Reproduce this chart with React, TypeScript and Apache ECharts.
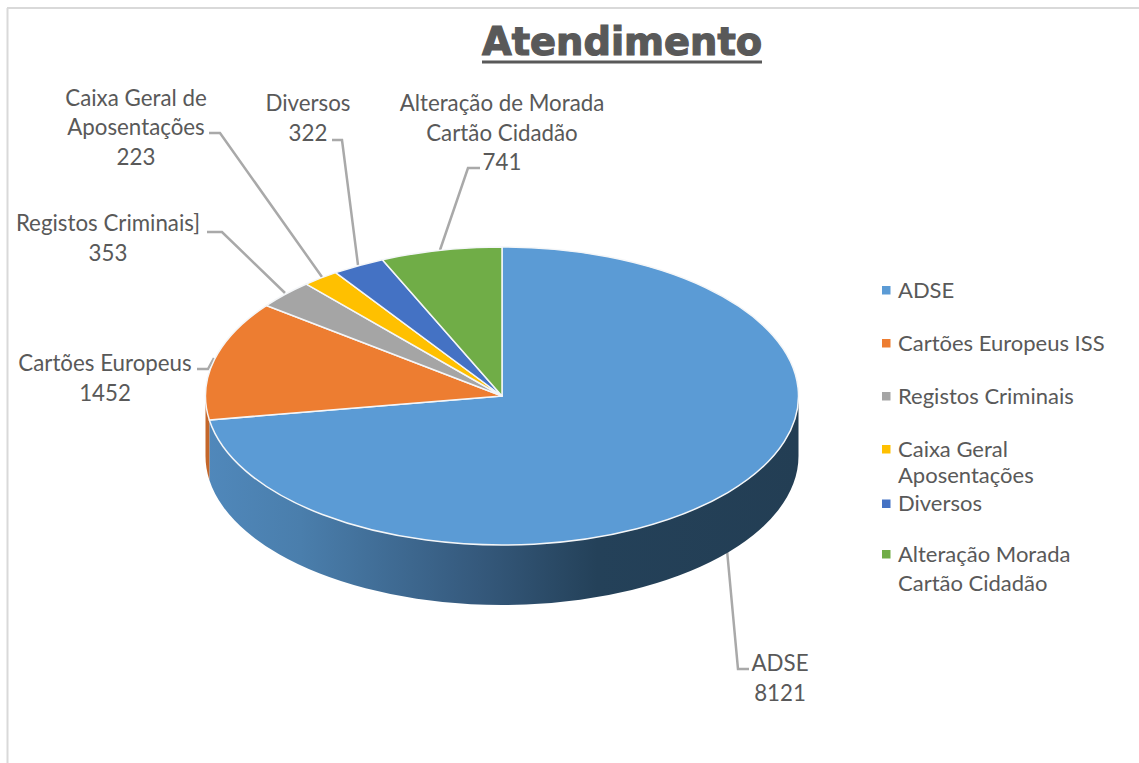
import React, { useEffect, useRef } from "react";
import * as echarts from "echarts";

const titleText = "Atendimento";
const sliceValues = [8121, 1452, 353, 223, 322, 741];
const sliceColors = ["#5b9bd5", "#ed7d31", "#a5a5a5", "#ffc000", "#4472c4", "#70ad47"];
const sliceLabels = [
  "ADSE\n8121",
  "Cartões Europeus\n1452",
  "Registos Criminais]\n353",
  "Caixa Geral de\nAposentações\n223",
  "Diversos\n322",
  "Alteração de Morada\nCartão Cidadão\n741",
];
const legendNames = [
  "ADSE",
  "Cartões Europeus ISS",
  "Registos Criminais",
  "Caixa Geral\nAposentações",
  "Diversos",
  "Alteração Morada\nCartão Cidadão",
];

// Layout only
const cx = 502, cy = 396, rx = 296.5, ry = 149, depth = 60;
const FONT = "Lato, 'Noto Sans', sans-serif";
const TEXT = "#595959";
const LEADER = "#a9a9a9";
const labelCenters = [[780, 677.5], [105, 377.5], [108, 237.5], [136, 126.5], [308, 117.5], [502, 132]];
const leaderPaths = [
  [[727, 550], [738, 669], [749, 669]],
  [[197, 369], [208, 369], [214, 358]],
  [[207, 232], [222, 232], [285, 293]],
  [[209, 133], [220, 133], [322, 277]],
  [[332, 140], [342, 140], [358, 265]],
  [[480, 168], [468, 168], [440, 250]],
];
const legendRows = [290, 343, 396, 449, 503.5, 554];
const legendLineHeights = [22, 22, 22, 26.5, 22, 29];
const sideStops = [
  { offset: 0, color: "#5088bb" },
  { offset: 0.16, color: "#4a7eac" },
  { offset: 0.46, color: "#35597c" },
  { offset: 0.66, color: "#244159" },
  { offset: 1, color: "#233e54" },
];

const total = sliceValues.reduce((s, v) => s + v, 0);
const sliceStart = (i: number) =>
  (sliceValues.slice(0, i).reduce((s, v) => s + v, 0) / total) * Math.PI * 2;
const pt = (a: number, dy = 0) => [cx + rx * Math.sin(a), cy - ry * Math.cos(a) + dy];
const f = (p: number[]) => `${p[0].toFixed(2)} ${p[1].toFixed(2)}`;

const topPath = (i: number) => {
  const a = sliceStart(i), b = sliceStart(i + 1);
  const large = b - a > Math.PI ? 1 : 0;
  return `M ${cx} ${cy} L ${f(pt(a))} A ${rx} ${ry} 0 ${large} 1 ${f(pt(b))} Z`;
};
const sidePath = (i: number) => {
  const a = Math.max(sliceStart(i), Math.PI / 2);
  const b = Math.min(sliceStart(i + 1), (Math.PI * 3) / 2);
  if (b <= a) return null;
  return `M ${f(pt(a))} A ${rx} ${ry} 0 0 1 ${f(pt(b))} L ${f(pt(b, depth))} A ${rx} ${ry} 0 0 0 ${f(pt(a, depth))} Z`;
};

export default function App() {
  const ref = useRef<HTMLDivElement>(null);
  useEffect(() => {
    const chart = echarts.init(ref.current!, null, { renderer: "svg" });
    const sideGradient = new echarts.graphic.LinearGradient(cx - rx, 0, cx + rx, 0, sideStops, true);
    const custom = (renderItem: any) => ({
      type: "custom",
      coordinateSystem: "none",
      silent: true,
      clip: false,
      data: sliceValues,
      renderItem,
    });
    chart.setOption({
      animation: false,
      backgroundColor: "#ffffff",
      title: {
        text: titleText,
        left: 482,
        top: 22,
        padding: 0,
        textStyle: {
          fontFamily: "'DejaVu Sans'",
          fontWeight: "bold",
          fontSize: 38.4,
          color: TEXT,
          textBorderColor: TEXT,
          textBorderWidth: 1.2,
        },
      },
      series: [
        custom((p: any) => ({
          type: "polyline",
          shape: { points: leaderPaths[p.dataIndex] },
          style: { stroke: LEADER, lineWidth: 2.5, fill: "none" },
        })),
        custom((p: any) => {
          const d = sidePath(p.dataIndex);
          if (!d) return null;
          return {
            type: "path",
            shape: { pathData: d },
            style: { fill: p.dataIndex === 0 ? sideGradient : "#c4662a" },
          };
        }),
        custom((p: any) => ({
          type: "path",
          shape: { pathData: topPath(p.dataIndex) },
          style: { fill: sliceColors[p.dataIndex], stroke: "#f4f6f8", lineWidth: 1.5, lineJoin: "round" },
        })),
        custom((p: any) => ({
          type: "text",
          style: {
            text: sliceLabels[p.dataIndex],
            x: labelCenters[p.dataIndex][0],
            y: labelCenters[p.dataIndex][1],
            fill: TEXT,
            fontFamily: FONT,
            fontSize: 22.3,
            lineHeight: 29.5,
            align: "center",
            verticalAlign: "middle",
          },
        })),
      ],
      graphic: {
        elements: [
          { type: "line", shape: { x1: 7, y1: 8, x2: 1139, y2: 8 }, style: { stroke: "#d9d9d9", lineWidth: 2 } },
          { type: "line", shape: { x1: 7.5, y1: 8, x2: 7.5, y2: 763 }, style: { stroke: "#d9d9d9", lineWidth: 2 } },
          { type: "line", shape: { x1: 482, y1: 62, x2: 762, y2: 62 }, style: { stroke: TEXT, lineWidth: 3 } },
          ...legendNames.flatMap((name, i) => {
            const lh = legendLineHeights[i];
            return [
              {
                type: "rect",
                shape: { x: 882, y: legendRows[i] - 4, width: 8.5, height: 8.5 },
                style: { fill: sliceColors[i] },
              },
              {
                type: "text",
                x: 898,
                y: legendRows[i] - lh / 2 - 1,
                style: {
                  text: name,
                  fill: TEXT,
                  fontFamily: FONT,
                  fontSize: 22,
                  lineHeight: lh,
                  align: "left",
                  verticalAlign: "top",
                },
              },
            ];
          }),
        ],
      },
    });
    return () => chart.dispose();
  }, []);
  return (
    <div
      ref={ref}
      style={{ position: "absolute", left: 0, top: 0, width: 1139, height: 763 }}
    />
  );
}
